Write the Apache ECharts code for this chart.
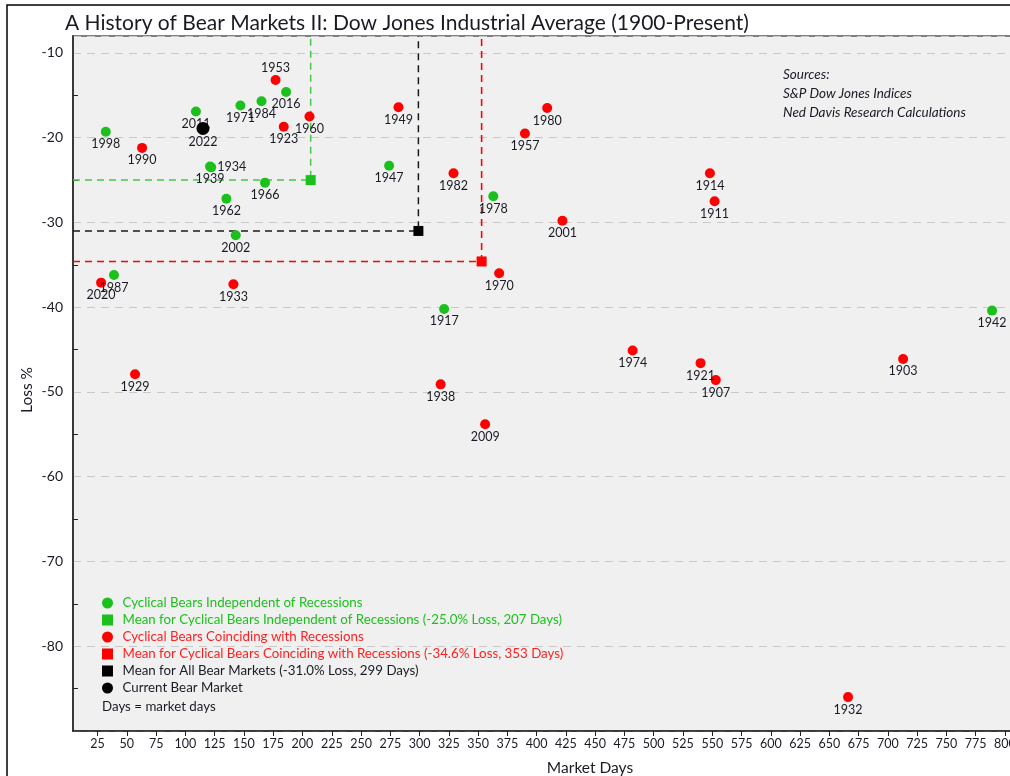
<!DOCTYPE html>
<html>
<head>
<meta charset="utf-8">
<title>A History of Bear Markets II</title>
<script src="https://cdn.jsdelivr.net/npm/echarts@6/dist/echarts.min.js"></script>
<style>
  html, body { margin: 0; padding: 0; background: #fff; overflow: hidden; }
  /* the plot runs past the right edge of the window, like the original */
  #main { width: 1030px; height: 776px; }
</style>
</head>
<body>
<div id="main"></div>
<script>
// bears independent of recessions (green)
var greenYears = ['1998', '2011', '1971', '1984', '2016', '1939', '1934', '1966', '1962', '2002', '1987', '1947', '1978', '1917', '1942'];
var greenDays = [32, 109, 147, 165, 186, 121, 122, 168, 135, 143, 39, 274, 363, 321, 789];
var greenLoss = [-19.3, -16.9, -16.2, -15.7, -14.6, -23.4, -23.5, -25.3, -27.2, -31.5, -36.2, -23.3, -26.9, -40.2, -40.4];

// bears coinciding with recessions (red)
var redYears = ['1953', '1960', '1923', '1990', '1949', '1980', '1957', '1982', '2001', '1914', '1911', '1970', '2020', '1933', '1929', '1938', '2009', '1974', '1921', '1907', '1903', '1932'];
var redDays = [177, 206, 184, 63, 282, 409, 390, 329, 422, 548, 552, 368, 28, 141, 57, 318, 356, 482, 540, 553, 713, 666];
var redLoss = [-13.2, -17.5, -18.7, -21.2, -16.4, -16.5, -19.5, -24.2, -29.8, -24.2, -27.5, -36.0, -37.1, -37.3, -47.9, -49.1, -53.8, -45.1, -46.6, -48.6, -46.1, -86.0];

// current bear market
var currentYears = ['2022'];
var currentDays = [115];
var currentLoss = [-18.9];

// means: independent, coinciding, all
var meanNames = [
  'Mean for Cyclical Bears Independent of Recessions (-25.0% Loss, 207 Days)',
  'Mean for Cyclical Bears Coinciding with Recessions (-34.6% Loss, 353 Days)',
  'Mean for All Bear Markets (-31.0% Loss, 299 Days)'
];
var meanDays = [207, 353, 299];
var meanLoss = [-25.0, -34.6, -31.0];

var xMin = 4, xMax = 806, xTickStart = 25, xTickStep = 25;
var yMin = -90, yMax = -8, yStep = 10;

var FONT = 'Lato, "Open Sans", sans-serif';
var GREEN = '#1cc01c', RED = '#ff0000', BLACK = '#000000';
var TXT = '#1a1a24';
var SQUARE = 'path://M0,0L10,0L10,10L0,10Z';

// label tweaks for crowded points
var labelPos = { '1953': 'top', '1934': 'right' };

function buildPoints(years, days, loss) {
  var list = [];
  for (var i = 0; i < years.length; i++) {
    var p = { name: years[i], value: [days[i], loss[i]] };
    if (labelPos[years[i]]) {
      p.label = { position: labelPos[years[i]] };
    }
    list.push(p);
  }
  return list;
}

function meanLine(i) {
  return [[xMin, meanLoss[i]], [meanDays[i], meanLoss[i]], [meanDays[i], yMax]];
}

var chartDom = document.getElementById('main');
var chart = echarts.init(chartDom, null, { renderer: 'canvas' });

// the tick grid has to start at 25 so ticks land on multiples of 25
var W = 1030;
var gLeft = 73, gRight = 18, gTop = 36, gBottom = 45;
var plotW = W - gLeft - gRight;
var pxPerDay = plotW / (xMax - xMin);
var tickLeft = gLeft + (xTickStart - xMin) * pxPerDay;

var pointLabel = {
  show: true,
  position: 'bottom',
  distance: 1,
  formatter: '{b}',
  color: TXT,
  fontSize: 12.5,
  fontFamily: FONT
};

var option = {
  animation: false,
  backgroundColor: '#ffffff',
  title: {
    text: 'A History of Bear Markets II: Dow Jones Industrial Average (1900-Present)',
    left: 60,
    top: 8,
    textStyle: { fontSize: 21, fontWeight: 'normal', color: TXT, fontFamily: FONT }
  },
  legend: {
    orient: 'vertical',
    left: 102,
    top: 596,
    padding: 0,
    itemWidth: 20,
    itemHeight: 11,
    itemGap: 3,
    selectedMode: false,
    textStyle: { fontSize: 13.3, lineHeight: 14, fontFamily: FONT, color: TXT },
    data: [
      { name: 'Cyclical Bears Independent of Recessions', icon: 'circle', textStyle: { color: GREEN } },
      { name: meanNames[0], icon: SQUARE, textStyle: { color: GREEN } },
      { name: 'Cyclical Bears Coinciding with Recessions', icon: 'circle', textStyle: { color: '#ff1f1f' } },
      { name: meanNames[1], icon: SQUARE, textStyle: { color: '#ff1f1f' } },
      { name: meanNames[2], icon: SQUARE, textStyle: { color: TXT } },
      { name: 'Current Bear Market', icon: 'circle', textStyle: { color: TXT } }
    ]
  },
  grid: [{
    left: gLeft, right: gRight, top: gTop, bottom: gBottom,
    show: true,
    backgroundColor: '#f0f0f0',
    borderColor: '#808080',
    borderWidth: 2
  }, {
    left: tickLeft, right: gRight, top: gTop, bottom: gBottom,
    show: false
  }],
  xAxis: [{
    type: 'value',
    gridIndex: 0,
    min: xMin,
    max: xMax,
    axisLine: { show: true, lineStyle: { color: '#222', width: 1.5 } },
    axisTick: { show: false },
    axisLabel: { show: false },
    splitLine: { show: false }
  }, {
    type: 'value',
    gridIndex: 1,
    min: xTickStart,
    max: xMax,
    interval: xTickStep,
    axisLine: { show: false },
    axisTick: { show: true, length: 5, lineStyle: { color: '#222', width: 1 } },
    axisLabel: {
      margin: 6,
      fontSize: 12.5,
      color: TXT,
      fontFamily: FONT,
      formatter: function (v) { return v % xTickStep === 0 ? String(v) : ''; }
    },
    splitLine: { show: false }
  }],
  yAxis: [{
    type: 'value',
    gridIndex: 0,
    min: yMin,
    max: yMax,
    interval: yStep,
    axisLine: { show: true, lineStyle: { color: '#222', width: 1.5 } },
    axisTick: { show: false, inside: true },
    minorTick: { show: true, splitNumber: 2, length: 5, lineStyle: { color: '#222', width: 1 } },
    axisLabel: {
      margin: 10,
      fontSize: 14,
      color: TXT,
      fontFamily: FONT,
      formatter: function (v) { return (v % yStep === 0 && v > yMin) ? String(v) : ''; }
    },
    splitLine: { show: true, lineStyle: { color: '#c8c8c8', width: 1, type: [8, 6] } }
  }, {
    type: 'value',
    gridIndex: 1,
    min: yMin,
    max: yMax,
    show: false
  }],
  graphic: [
    {
      type: 'rect',
      silent: true,
      shape: { x: 7, y: 5, width: 1100, height: 1000 },
      style: { fill: 'none', stroke: '#000', lineWidth: 1.5 },
      z: 100
    },
    {
      type: 'text', left: 783, top: 68, silent: true,
      style: { text: 'Sources:', fontSize: 13.5, fontStyle: 'italic', fontFamily: FONT, fill: TXT }
    },
    {
      type: 'text', left: 783, top: 87, silent: true,
      style: { text: 'S&P Dow Jones Indices', fontSize: 13.5, fontStyle: 'italic', fontFamily: FONT, fill: TXT }
    },
    {
      type: 'text', left: 783, top: 106, silent: true,
      style: { text: 'Ned Davis Research Calculations', fontSize: 13.5, fontStyle: 'italic', fontFamily: FONT, fill: TXT }
    },
    {
      type: 'text', left: 102, top: 700, silent: true,
      style: { text: 'Days = market days', fontSize: 13.3, fontFamily: FONT, fill: TXT }
    },
    {
      type: 'text', silent: true,
      x: 27, y: 390, rotation: Math.PI / 2,
      style: { text: 'Loss %', fontSize: 15.5, fontFamily: FONT, fill: TXT, align: 'center', verticalAlign: 'middle' }
    },
    {
      type: 'text', silent: true,
      x: 590, y: 768,
      style: { text: 'Market Days', fontSize: 15.5, fontFamily: FONT, fill: TXT, align: 'center', verticalAlign: 'middle' }
    }
  ],
  series: [
    // dashed guide lines for the means
    {
      type: 'line', xAxisIndex: 0, yAxisIndex: 0, silent: true, symbol: 'none', z: 1,
      data: meanLine(0),
      lineStyle: { color: '#45c845', width: 1.5, type: [7, 5] }
    },
    {
      type: 'line', xAxisIndex: 0, yAxisIndex: 0, silent: true, symbol: 'none', z: 1,
      data: meanLine(1),
      lineStyle: { color: '#ff0000', width: 1.6, type: [7, 5] }
    },
    {
      type: 'line', xAxisIndex: 0, yAxisIndex: 0, silent: true, symbol: 'none', z: 1,
      data: meanLine(2),
      lineStyle: { color: '#1a1a1a', width: 1.5, type: [7, 5] }
    },
    {
      name: 'Cyclical Bears Independent of Recessions',
      type: 'scatter', xAxisIndex: 0, yAxisIndex: 0, z: 3,
      symbol: 'circle', symbolSize: 10,
      itemStyle: { color: GREEN, opacity: 1 },
      label: pointLabel,
      data: buildPoints(greenYears, greenDays, greenLoss)
    },
    {
      name: 'Cyclical Bears Coinciding with Recessions',
      type: 'scatter', xAxisIndex: 0, yAxisIndex: 0, z: 3,
      symbol: 'circle', symbolSize: 10,
      itemStyle: { color: RED, opacity: 1 },
      label: pointLabel,
      data: buildPoints(redYears, redDays, redLoss)
    },
    {
      name: 'Current Bear Market',
      type: 'scatter', xAxisIndex: 0, yAxisIndex: 0, z: 4,
      symbol: 'circle', symbolSize: 13,
      itemStyle: { color: BLACK, opacity: 1 },
      label: pointLabel,
      data: buildPoints(currentYears, currentDays, currentLoss)
    },
    {
      name: meanNames[0],
      type: 'scatter', xAxisIndex: 0, yAxisIndex: 0, z: 4,
      symbol: 'rect', symbolSize: 10,
      itemStyle: { color: GREEN, opacity: 1 },
      data: [[meanDays[0], meanLoss[0]]]
    },
    {
      name: meanNames[1],
      type: 'scatter', xAxisIndex: 0, yAxisIndex: 0, z: 4,
      symbol: 'rect', symbolSize: 10,
      itemStyle: { color: RED, opacity: 1 },
      data: [[meanDays[1], meanLoss[1]]]
    },
    {
      name: meanNames[2],
      type: 'scatter', xAxisIndex: 0, yAxisIndex: 0, z: 4,
      symbol: 'rect', symbolSize: 10,
      itemStyle: { color: BLACK, opacity: 1 },
      data: [[meanDays[2], meanLoss[2]]]
    }
  ]
};

chart.setOption(option);
</script>
</body>
</html>
